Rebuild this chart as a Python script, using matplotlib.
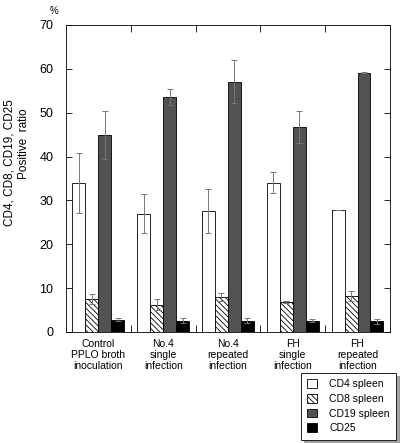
import matplotlib
matplotlib.use("Agg")
import matplotlib.pyplot as plt
import numpy as np

plt.rcParams['font.family'] = ['Liberation Sans', 'DejaVu Sans']
plt.rcParams['hatch.linewidth'] = 0.6

groups = ["Control\nPPLO broth\ninoculation",
          "No.4\nsingle\ninfection",
          "No.4\nrepeated\ninfection",
          "FH\nsingle\ninfection",
          "FH\nrepeated\ninfection"]
series = ["CD4 spleen", "CD8 spleen", "CD19 spleen", "CD25"]

cd4 = [33.9, 27.0, 27.5, 34.0, 27.8]
cd4_err = [6.8, 4.4, 5.0, 2.4, 0.0]
cd8 = [7.5, 6.2, 8.0, 6.8, 8.2]
cd8_err = [1.1, 1.3, 1.0, 0.2, 1.1]
cd19 = [45.0, 53.6, 57.1, 46.7, 59.1]
cd19_err = [5.5, 1.9, 4.9, 3.7, 0.1]
cd25 = [2.8, 2.6, 2.6, 2.6, 2.4]
cd25_err = [0.3, 0.6, 0.5, 0.4, 0.6]

values = [cd4, cd8, cd19, cd25]
errors = [cd4_err, cd8_err, cd19_err, cd25_err]
styles = [dict(facecolor='white', hatch=None),
          dict(facecolor='white', hatch='\\\\\\\\\\\\'),
          dict(facecolor='#525252', hatch=None),
          dict(facecolor='black', hatch=None)]

fig = plt.figure(figsize=(4.02, 4.43), dpi=100)
ax = fig.add_axes([0.164, 0.2506, 0.806, 0.693])

x = np.arange(len(groups)) + 0.5
width = 0.2
for i, (vals, errs, st) in enumerate(zip(values, errors, styles)):
    pos = x + (i - 1.5) * width
    ax.bar(pos, vals, width, edgecolor='black', linewidth=0.6,
           label=series[i], **st)
    ax.errorbar(pos, vals, yerr=errs, fmt='none', ecolor='#777777',
                elinewidth=0.7, capsize=2, capthick=0.7)

ax.set_xlim(0, 5)
ax.set_ylim(0, 70)
ax.set_yticks(np.arange(0, 71, 10))
ax.set_xticks(x)
ax.set_xticklabels(groups, fontsize=7.5, linespacing=1.15)
ax.tick_params(axis='x', length=0, pad=5)
ax.set_xticks([1, 2, 3, 4], minor=True)
ax.tick_params(axis='x', which='minor', direction='in', length=5,
               top=True, bottom=True, width=0.6)
ax.tick_params(axis='y', direction='in', length=4, right=True,
               labelsize=9, width=0.6, pad=9)
for s in ax.spines.values():
    s.set_linewidth(0.6)

# y label drawn as two separate lines, as in the original scan
fig.text(10 / 402, 1 - 163 / 443, "CD4, CD8, CD19, CD25", rotation=90,
         fontsize=8.5, ha='center', va='center')
fig.text(24 / 402, 1 - 144 / 443, "Positive  ratio", rotation=90,
         fontsize=8.5, ha='center', va='center')
fig.text(0.135, 0.975, "%", fontsize=7, ha='center', va='center')

leg = fig.legend(loc='upper right', bbox_to_anchor=(0.985, 0.158),
                 fontsize=7.5, fancybox=False, shadow=True,
                 handlelength=0.9, handleheight=0.9, edgecolor='black',
                 framealpha=1, borderpad=0.6, labelspacing=0.45,
                 handletextpad=1.2, borderaxespad=0)
leg.get_frame().set_linewidth(0.6)

fig.savefig("out.png", dpi=100)
